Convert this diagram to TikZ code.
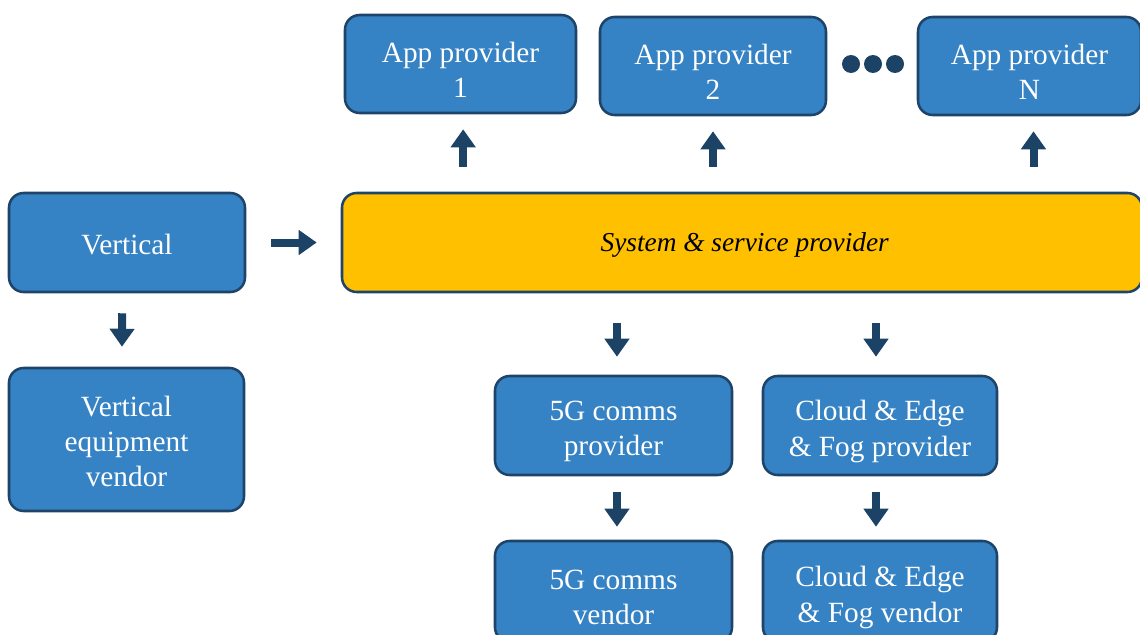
\documentclass[tikz,border=0pt]{standalone}
\usepackage{fontspec}
\setmainfont{Liberation Serif}
\usetikzlibrary{arrows.meta}
\definecolor{boxblue}{RGB}{53,130,196}
\definecolor{boxedge}{RGB}{30,68,105}
\definecolor{arrowc}{RGB}{28,66,102}
\definecolor{sysyellow}{RGB}{255,192,0}
\tikzset{
  box/.style={draw=boxedge, line width=1.9pt, fill=boxblue, rounded corners=11pt, inner sep=0pt},
  txt/.style={text=white, align=center, inner sep=0pt, font=\fontsize{22}{26.5}\selectfont},
  systxt/.style={text=black, inner sep=0pt, font=\fontsize{20.5}{26}\selectfont\itshape},
  sysbox/.style={box, fill=sysyellow},
  bigarrow/.style={draw=arrowc, line width=6pt, -{Triangle[width=18pt,length=13.5pt]}, arrowc},
  dot/.style={circle, fill=arrowc, inner sep=0pt, minimum size=13.5pt}
}
\begin{document}
\begin{tikzpicture}[x=0.75pt,y=-0.75pt]
\useasboundingbox (0,0) rectangle (1140,635);
\clip (0,0) rectangle (1140,635);
% boxes
\node[box, minimum width=231*0.75pt, minimum height=98*0.75pt] (app1) at (460.5,64) {};
\node[box, minimum width=226*0.75pt, minimum height=98*0.75pt] (app2) at (713,66) {};
\node[box, minimum width=223*0.75pt, minimum height=98*0.75pt] (appN) at (1029.5,66) {};
\node[dot] (d1) at (851,64) {};
\node[dot] (d2) at (873,64) {};
\node[dot] (d3) at (895,64) {};
\node[sysbox, minimum width=800*0.75pt, minimum height=99*0.75pt] (sys) at (742,242.5) {};
\node[box, minimum width=236*0.75pt, minimum height=99*0.75pt] (vert) at (127,242.5) {};
\node[box, minimum width=235*0.75pt, minimum height=143*0.75pt] (vev) at (126.5,439.5) {};
\node[box, minimum width=237*0.75pt, minimum height=99*0.75pt] (p5g) at (613.5,425.5) {};
\node[box, minimum width=234*0.75pt, minimum height=99*0.75pt] (pcl) at (880,425.5) {};
\node[box, minimum width=237*0.75pt, minimum height=101*0.75pt] (v5g) at (613.5,591.5) {};
\node[box, minimum width=234*0.75pt, minimum height=101*0.75pt] (vcl) at (880,591.5) {};
% texts
\node[txt, yshift=-4.5pt] (t1) at (app1) {App provider\\1};
\node[txt, yshift=-4.5pt] (t2) at (app2) {App provider\\2};
\node[txt, yshift=-4.5pt] (tN) at (appN) {App provider\\N};
\node[systxt, yshift=-1.5pt] (ts) at ([xshift=2pt]sys) {System \& service provider};
\node[txt, yshift=-1.5pt] (tv) at (vert) {Vertical};
\node[txt, yshift=-1.5pt] (tvev) at (vev) {Vertical\\equipment\\vendor};
\node[txt, yshift=-4.5pt] (tp5g) at (p5g) {5G comms\\provider};
\node[txt, yshift=-4.5pt] (tpcl) at (pcl) {Cloud \& Edge\\\& Fog provider};
\node[txt, yshift=-4.5pt] (tv5g) at (v5g) {5G comms\\vendor};
\node[txt, yshift=-4.5pt] (tvcl) at (vcl) {Cloud \& Edge\\\& Fog vendor};
% arrows
\draw[bigarrow, shorten <=18.75pt, shorten >=11.25pt] ([xshift=2pt]sys.north -| app1.south) -- ([xshift=2pt]app1.south);
\draw[bigarrow, shorten <=18.75pt, shorten >=11.25pt] (sys.north -| app2.south) -- (app2.south);
\draw[bigarrow, shorten <=18.75pt, shorten >=11.25pt] ([xshift=3pt]sys.north -| appN.south) -- ([xshift=3pt]appN.south);
\draw[bigarrow, shorten <=18.75pt, shorten >=18pt] (vert.east) -- (vert.east -| sys.west);
\draw[bigarrow, shorten <=15pt, shorten >=15pt] ([xshift=-3.5pt]vert.south) -- ([xshift=-3.5pt]vev.north);
\draw[bigarrow, shorten <=22.5pt, shorten >=13.5pt] ([xshift=2.6pt]sys.south -| p5g.north) -- ([xshift=2.6pt]p5g.north);
\draw[bigarrow, shorten <=22.5pt, shorten >=13.5pt] ([xshift=-3pt]sys.south -| pcl.north) -- ([xshift=-3pt]pcl.north);
\draw[bigarrow, shorten <=12pt, shorten >=9.75pt] ([xshift=2.6pt]p5g.south) -- ([xshift=2.6pt]v5g.north);
\draw[bigarrow, shorten <=12pt, shorten >=9.75pt] ([xshift=-3pt]pcl.south) -- ([xshift=-3pt]vcl.north);
\end{tikzpicture}
\end{document}
